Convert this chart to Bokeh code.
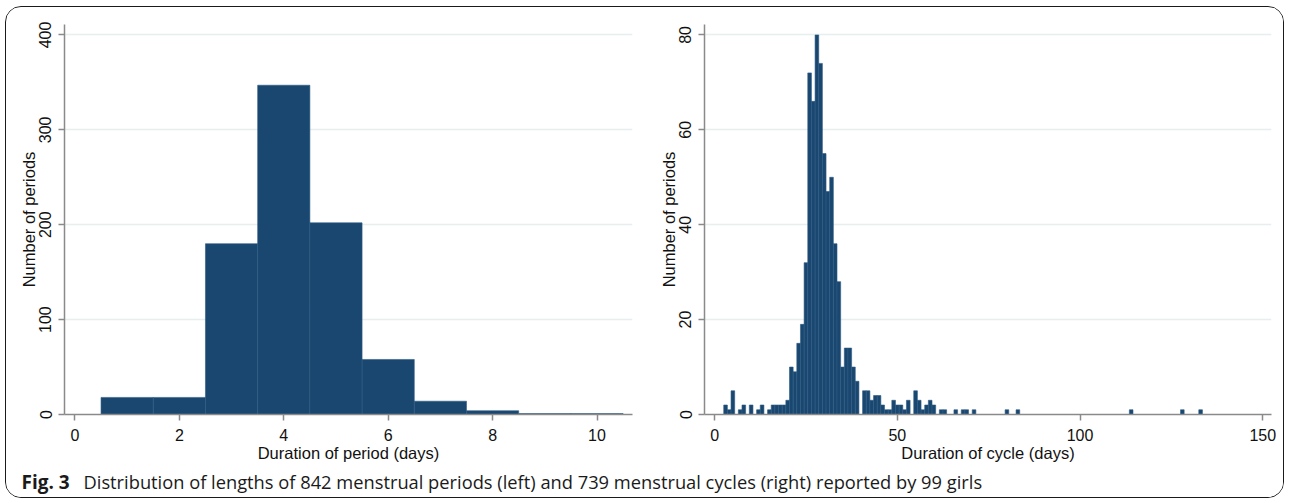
from bokeh.plotting import figure
from bokeh.models import Range1d, FixedTicker, Label, ColumnDataSource
from bokeh.layouts import column, row
from bokeh.embed import file_html
from bokeh.resources import INLINE

# ---------------- data ----------------
# Left panel: duration of period (days), bin width 1 day
period_days = [1, 2, 3, 4, 5, 6, 7, 8, 9, 10]
period_counts = [18, 18, 180, 347, 202, 58, 14, 4, 1, 1]
period_xticks = [0, 2, 4, 6, 8, 10]
period_yticks = [0, 100, 200, 300, 400]

# Right panel: duration of cycle (days), bin width 1 day (non-empty bins)
cycle_days = [3, 4, 5, 7, 8, 10, 12, 13, 15, 16, 17, 18, 19, 20,
              21, 22, 23, 24, 25, 26, 27, 28, 29, 30, 31, 32, 33, 34,
              35, 36, 37, 38, 39, 41, 42, 43, 44, 45, 46, 47, 48, 49,
              50, 51, 52, 53, 55, 56, 57, 58, 59, 60, 62, 63, 66, 68,
              69, 71, 80, 83, 114, 128, 133]
cycle_counts = [2, 1, 5, 1, 2, 2, 1, 2, 1, 2, 2, 2, 2, 3,
                10, 9, 15, 19, 32, 72, 66, 80, 74, 55, 47, 50, 36, 28,
                10, 14, 14, 10, 7, 5, 5, 3, 4, 4, 2, 1, 1, 3,
                2, 2, 1, 3, 5, 3, 1, 2, 3, 2, 1, 1, 1, 1,
                1, 1, 1, 1, 1, 1, 1]
cycle_xticks = [0, 50, 100, 150]
cycle_yticks = [0, 20, 40, 60, 80]

bin_width = 1.0

x_label_left = "Duration of period (days)"
x_label_right = "Duration of cycle (days)"
y_label = "Number of periods"
caption_bold = "Fig. 3"
caption_text = ("Distribution of lengths of 842 menstrual periods (left) and "
                "739 menstrual cycles (right) reported by 99 girls")

# ---------------- style ----------------
BAR = "#1a476f"
EDGE = "#2b5a84"
GRID = "#e6eef0"
AXIS = "#8a8a8a"
FONT = "Liberation Sans"
CAP_FONT = "Open Sans"
FIG_H = 462
CAP_H = 28


def make_hist(days, counts, xr, yr, xt, yt, xlabel, width, mbl, mbr):
    p = figure(width=width, height=FIG_H,
               x_range=Range1d(*xr), y_range=Range1d(*yr),
               output_backend="svg", toolbar_location=None,
               min_border_left=mbl, min_border_right=mbr,
               min_border_top=17, min_border_bottom=55,
               outline_line_color=None,
               background_fill_color="white", border_fill_color="white")
    src = ColumnDataSource(dict(
        left=[d - bin_width / 2 for d in days],
        right=[d + bin_width / 2 for d in days],
        top=counts,
        bottom=[0] * len(days)))
    p.quad(left="left", right="right", top="top", bottom="bottom",
           source=src, fill_color=BAR, line_color=EDGE, line_width=0.6)

    p.xaxis.ticker = FixedTicker(ticks=xt)
    p.yaxis.ticker = FixedTicker(ticks=yt)
    p.xgrid.visible = False
    p.ygrid.grid_line_color = GRID
    p.ygrid.grid_line_width = 1.5

    for ax in (p.xaxis[0], p.yaxis[0]):
        ax.axis_line_color = AXIS
        ax.axis_line_width = 1.5
        ax.major_tick_line_color = AXIS
        ax.major_tick_line_width = 1.5
        ax.major_tick_in = 0
        ax.major_tick_out = 6
        ax.minor_tick_line_color = None
        ax.major_label_text_font = FONT
        ax.major_label_text_font_size = "16px"
        ax.major_label_text_color = "#111111"
        ax.axis_label_text_font = FONT
        ax.axis_label_text_font_size = "16.5px"
        ax.axis_label_text_font_style = "normal"
        ax.axis_label_text_color = "#111111"

    p.xaxis.axis_label = xlabel
    p.xaxis.major_label_standoff = 8
    p.xaxis.axis_label_standoff = 0
    p.yaxis.axis_label = y_label
    p.yaxis.major_label_orientation = "vertical"
    p.yaxis.major_label_standoff = 7
    p.yaxis.axis_label_standoff = -1
    return p


p1 = make_hist(period_days, period_counts, (-0.2, 10.68), (0, 411),
               period_xticks, period_yticks, x_label_left,
               width=642, mbl=58, mbr=16)
p2 = make_hist(cycle_days, cycle_counts, (-2.76, 152.4), (0, 82.2),
               cycle_xticks, cycle_yticks, x_label_right,
               width=635, mbl=56, mbr=12)

cap = figure(width=1277, height=CAP_H, x_range=Range1d(0, 1277),
             y_range=Range1d(0, CAP_H), output_backend="svg",
             toolbar_location=None, x_axis_type=None, y_axis_type=None,
             min_border=0, outline_line_color=None,
             background_fill_color="white", border_fill_color="white")
cap.grid.visible = False
cap.add_layout(Label(x=15, y=16, text=caption_bold, text_font=CAP_FONT,
                     text_font_style="bold", text_font_size="19px",
                     text_baseline="middle", text_color="#1a1a1a"))
cap.add_layout(Label(x=77, y=16, text=caption_text, text_font=CAP_FONT,
                     text_font_size="18.3px", text_baseline="middle",
                     text_color="#1a1a1a"))

layout = column(row(p1, p2), cap, margin=(6, 0, 0, 5),
                styles={"border": "1.5px solid #1a1a1a",
                        "border-radius": "16px",
                        "overflow": "hidden"})

open("out.html", "w").write(file_html(layout, INLINE))
